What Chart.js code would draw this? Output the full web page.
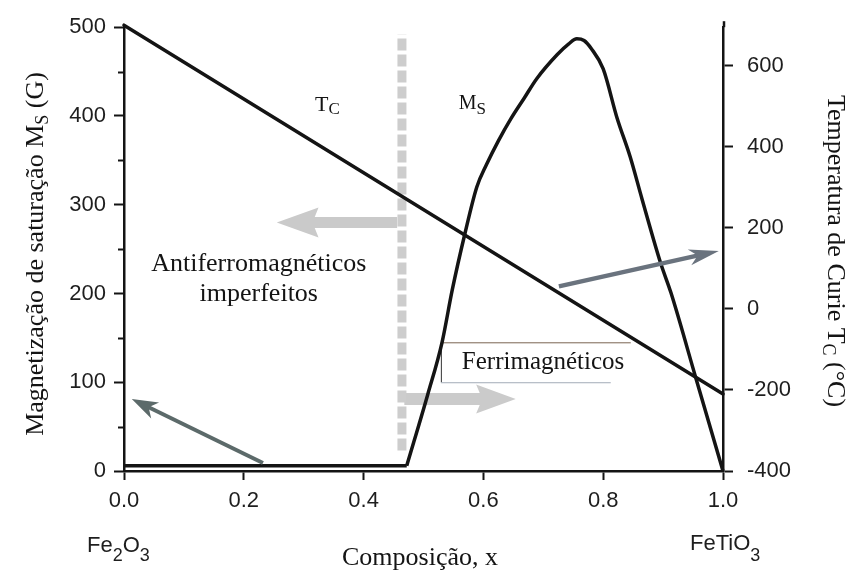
<!DOCTYPE html>
<html lang="pt">
<head>
<meta charset="utf-8">
<title>Fe2O3 – FeTiO3</title>
<script src="https://cdn.jsdelivr.net/npm/chart.js@4/dist/chart.umd.min.js"></script>
<style>
  html, body { margin: 0; padding: 0; background: #fff; }
  #wrap { width: 848px; height: 573px; }
</style>
</head>
<body>
<div id="wrap"><canvas id="hemoChart" width="848" height="573"></canvas></div>
<script>
// eixos
const xTicks = [0, 0.2, 0.4, 0.6, 0.8, 1.0];
const msTicks = [0, 100, 200, 300, 400, 500];
const msMinor = [50, 150, 250, 350, 450];
const tcTicks = [-400, -200, 0, 200, 400, 600];

// magnetização de saturação Ms (G) vs composição x
const msX = [0, 0.472, 0.507, 0.531, 0.548, 0.569, 0.589, 0.605, 0.625, 0.646, 0.668, 0.689,
             0.723, 0.742, 0.756, 0.768, 0.780, 0.800, 0.823, 0.845, 0.865, 0.896, 0.913, 0.955, 1.0];
const msY = [6, 6, 86, 145, 204, 267, 320, 345, 372, 397, 420, 442,
             469, 481, 487, 485, 476, 453, 398, 354, 306, 234, 201, 104, 0];
// índice onde termina o patamar e começa a subida
const msKnee = 1;

// temperatura de Curie Tc (°C)
const tcX = [0, 1];
const tcY = [700, -210];

// fronteira antiferro / ferrimagnético
const boundaryX = 0.464;
const boundaryMs = [23, 492];

const SERIF = '"Liberation Serif", "Times New Roman", serif';
const SANS = '"Liberation Sans", Arial, sans-serif';
const INK = '#141414';

function richWidth(ctx, runs, o) {
    let w = 0;
    runs.forEach(r => {
        ctx.font = (r[1] ? o.subSize : o.size) + 'px ' + o.family;
        w += ctx.measureText(r[0]).width;
    });
    return w;
}

// texto com subscritos: runs = [[texto, ehSub], ...]
function drawRich(ctx, runs, x, y, o) {
    const w = richWidth(ctx, runs, o);
    ctx.save();
    ctx.translate(x, y);
    ctx.rotate(o.angle || 0);
    ctx.fillStyle = o.color || INK;
    ctx.textBaseline = 'alphabetic';
    ctx.textAlign = 'left';
    let cx = o.align === 'center' ? -w / 2 : 0;
    runs.forEach(r => {
        ctx.font = (r[1] ? o.subSize : o.size) + 'px ' + o.family;
        ctx.fillText(r[0], cx, r[1] ? o.subShift : 0);
        cx += ctx.measureText(r[0]).width;
    });
    ctx.restore();
}

function blockArrow(ctx, x1, y1, x2, y2, shaft, headLen, headW, color) {
    const a = Math.atan2(y2 - y1, x2 - x1);
    const L = Math.hypot(x2 - x1, y2 - y1);
    ctx.save();
    ctx.translate(x1, y1);
    ctx.rotate(a);
    ctx.beginPath();
    ctx.moveTo(0, -shaft / 2);
    ctx.lineTo(L - headLen, -shaft / 2);
    ctx.lineTo(L - headLen * 1.1, -headW / 2);
    ctx.lineTo(L, 0);
    ctx.lineTo(L - headLen * 1.1, headW / 2);
    ctx.lineTo(L - headLen, shaft / 2);
    ctx.lineTo(0, shaft / 2);
    ctx.closePath();
    ctx.fillStyle = color;
    ctx.fill();
    ctx.restore();
}

function lineArrow(ctx, x1, y1, x2, y2, lw, headLen, headW, color) {
    const a = Math.atan2(y2 - y1, x2 - x1);
    const L = Math.hypot(x2 - x1, y2 - y1);
    ctx.save();
    ctx.translate(x1, y1);
    ctx.rotate(a);
    ctx.strokeStyle = color;
    ctx.fillStyle = color;
    ctx.lineWidth = lw;
    ctx.beginPath();
    ctx.moveTo(0, 0);
    ctx.lineTo(L - headLen * 0.7, 0);
    ctx.stroke();
    ctx.beginPath();
    ctx.moveTo(L, 0);
    ctx.lineTo(L - headLen, -headW / 2);
    ctx.lineTo(L - headLen * 0.72, 0);
    ctx.lineTo(L - headLen, headW / 2);
    ctx.closePath();
    ctx.fill();
    ctx.restore();
}

// setas e rótulos dentro do gráfico, em unidades de dados (x, Ms)
const decor = {
    id: 'decor',
    beforeDatasetsDraw(chart) {
        const ctx = chart.ctx;
        const px = v => chart.scales.x.getPixelForValue(v);
        const py = v => chart.scales.y.getPixelForValue(v);
        // setas claras
        blockArrow(ctx, px(0.456), py(280), px(0.255), py(280), 11, 38, 30, '#cacaca');
        blockArrow(ctx, px(0.468), py(81), px(0.654), py(81), 12, 36, 29, '#cbcbcb');
        // caixa "Ferrimagnéticos"
        const bx1 = px(0.529), bx2 = px(0.846), by1 = py(145), by2 = py(100);
        ctx.save();
        ctx.fillStyle = '#fff';
        ctx.fillRect(bx1, by1, bx2 - bx1, by2 - by1);
        ctx.lineWidth = 1;
        ctx.strokeStyle = '#7a6452';
        ctx.beginPath(); ctx.moveTo(bx1, by1 + 0.5); ctx.lineTo(bx2, by1 + 0.5); ctx.stroke();
        ctx.strokeStyle = '#333';
        ctx.beginPath(); ctx.moveTo(bx1 + 0.5, by1); ctx.lineTo(bx1 + 0.5, by2); ctx.stroke();
        ctx.strokeStyle = '#a3acb8';
        ctx.beginPath(); ctx.moveTo(bx1, by2 + 0.5); ctx.lineTo(bx2 - 20, by2 + 0.5); ctx.stroke();
        ctx.restore();
    },
    afterDatasetsDraw(chart) {
        const ctx = chart.ctx;
        const px = v => chart.scales.x.getPixelForValue(v);
        const py = v => chart.scales.y.getPixelForValue(v);
        // setas escuras
        lineArrow(ctx, px(0.232), py(9), px(0.013), py(81), 4, 26, 18, '#5c6a6a');
        lineArrow(ctx, px(0.726), py(208), px(0.993), py(248), 4.5, 30, 16, '#6a737e');

        drawRich(ctx, [['T', 0], ['C', 1]], px(0.319), py(406),
            { size: 22, subSize: 17, subShift: 3, family: SERIF });
        drawRich(ctx, [['M', 0], ['S', 1]], px(0.559), py(408),
            { size: 20, subSize: 17, subShift: 5, family: SERIF });
        drawRich(ctx, [['Antiferromagnéticos', 0]], px(0.225), py(225),
            { size: 26, family: SERIF, align: 'center' });
        drawRich(ctx, [['imperfeitos', 0]], px(0.225), py(191),
            { size: 26, family: SERIF, align: 'center' });
        drawRich(ctx, [['Ferrimagnéticos', 0]], px(0.564), py(115),
            { size: 25, family: SERIF });
    },
    afterDraw(chart) {
        const ctx = chart.ctx;
        const ys = chart.scales.y, y2 = chart.scales.y2;
        ctx.save();
        ctx.strokeStyle = INK;
        ctx.lineWidth = 2;
        // marcas menores do eixo Ms
        msMinor.forEach(v => {
            const p = Math.round(ys.getPixelForValue(v)) + 0.5;
            ctx.beginPath();
            ctx.moveTo(ys.right - 6, p);
            ctx.lineTo(ys.right, p);
            ctx.stroke();
        });
        // eixo da direita um pouco acima da área
        ctx.lineWidth = 2.5;
        ctx.beginPath();
        ctx.moveTo(y2.left + 1, chart.chartArea.top);
        ctx.lineTo(y2.left + 1, chart.chartArea.top - 6);
        ctx.stroke();
        ctx.restore();

        drawRich(ctx, [['Magnetização de saturação M', 0], ['S', 1], [' (G)', 0]], 43, 254,
            { size: 26, subSize: 18, subShift: 5, family: SERIF, align: 'center', angle: -Math.PI / 2 });
        drawRich(ctx, [['Temperatura de Curie T', 0], ['C', 1], [' (°C)', 0]], 828, 251,
            { size: 26, subSize: 18, subShift: 5, family: SERIF, align: 'center', angle: Math.PI / 2 });
        drawRich(ctx, [['Composição, x', 0]], 420, 565,
            { size: 26, family: SERIF, align: 'center' });
        drawRich(ctx, [['Fe', 0], ['2', 1], ['O', 0], ['3', 1]], 87, 552,
            { size: 22, subSize: 18, subShift: 9, family: SANS, color: '#1e1e1e' });
        drawRich(ctx, [['FeTiO', 0], ['3', 1]], 690, 550,
            { size: 22, subSize: 18, subShift: 11, family: SANS, color: '#1e1e1e' });
    }
};

const tickFont = { family: SANS, size: 22 };
const msPoints = msX.map((x, i) => ({ x: x, y: msY[i] }));

const msStyle = {
    yAxisID: 'y',
    borderColor: INK,
    borderWidth: 3.5,
    borderJoinStyle: 'round',
    pointRadius: 0,
    fill: false,
    clip: false,
    order: 0
};

const config = {
    type: 'line',
    data: {
        datasets: [
            // patamar de Ms (reta)
            Object.assign({ label: 'Ms', data: msPoints.slice(0, msKnee + 1), tension: 0 }, msStyle),
            // subida e queda de Ms
            Object.assign({ label: 'Ms', data: msPoints.slice(msKnee), cubicInterpolationMode: 'monotone' }, msStyle),
            {
                label: 'Tc',
                data: tcX.map((x, i) => ({ x: x, y: tcY[i] })),
                yAxisID: 'y2',
                borderColor: INK,
                borderWidth: 3.5,
                borderCapStyle: 'round',
                pointRadius: 0,
                tension: 0,
                fill: false,
                clip: false,
                order: 0
            },
            {
                label: 'fronteira',
                data: boundaryMs.map(v => ({ x: boundaryX, y: v })),
                yAxisID: 'y',
                borderColor: '#cdcdcd',
                borderWidth: 9,
                borderDash: [12, 4],
                pointRadius: 0,
                fill: false,
                order: 5
            }
        ]
    },
    options: {
        responsive: false,
        animation: false,
        layout: { padding: { top: 20, left: 0, right: 0, bottom: 0 } },
        plugins: {
            legend: { display: false },
            tooltip: { enabled: false }
        },
        scales: {
            x: {
                type: 'linear',
                position: 'bottom',
                min: 0,
                max: 1,
                afterBuildTicks: s => { s.ticks = xTicks.map(v => ({ value: v })); },
                afterFit: s => { s.height = 102; },
                ticks: {
                    callback: v => v.toFixed(1),
                    font: tickFont,
                    color: '#1e1e1e',
                    padding: 8,
                    maxRotation: 0,
                    autoSkip: false
                },
                grid: { drawOnChartArea: false, drawTicks: true, tickLength: 9, tickColor: INK, tickWidth: 2 },
                border: { display: true, color: INK, width: 2.5 }
            },
            y: {
                type: 'linear',
                position: 'left',
                min: 0,
                max: 500,
                afterBuildTicks: s => { s.ticks = msTicks.map(v => ({ value: v })); },
                afterFit: s => { s.width = 124; },
                ticks: { font: tickFont, color: '#1e1e1e', padding: 8 },
                grid: { drawOnChartArea: false, drawTicks: true, tickLength: 10, tickColor: INK, tickWidth: 2 },
                border: { display: true, color: INK, width: 2.5 }
            },
            y2: {
                type: 'linear',
                position: 'right',
                min: -400,
                max: 695,
                afterBuildTicks: s => { s.ticks = tcTicks.map(v => ({ value: v })); },
                afterFit: s => { s.width = 125; },
                ticks: { font: tickFont, color: '#1e1e1e', padding: 14 },
                grid: { drawOnChartArea: false, drawTicks: true, tickLength: 10, tickColor: INK, tickWidth: 2 },
                border: { display: true, color: INK, width: 2.5 }
            }
        }
    },
    plugins: [decor]
};

const hemoChart = new Chart(document.getElementById('hemoChart'), config);
</script>
</body>
</html>
